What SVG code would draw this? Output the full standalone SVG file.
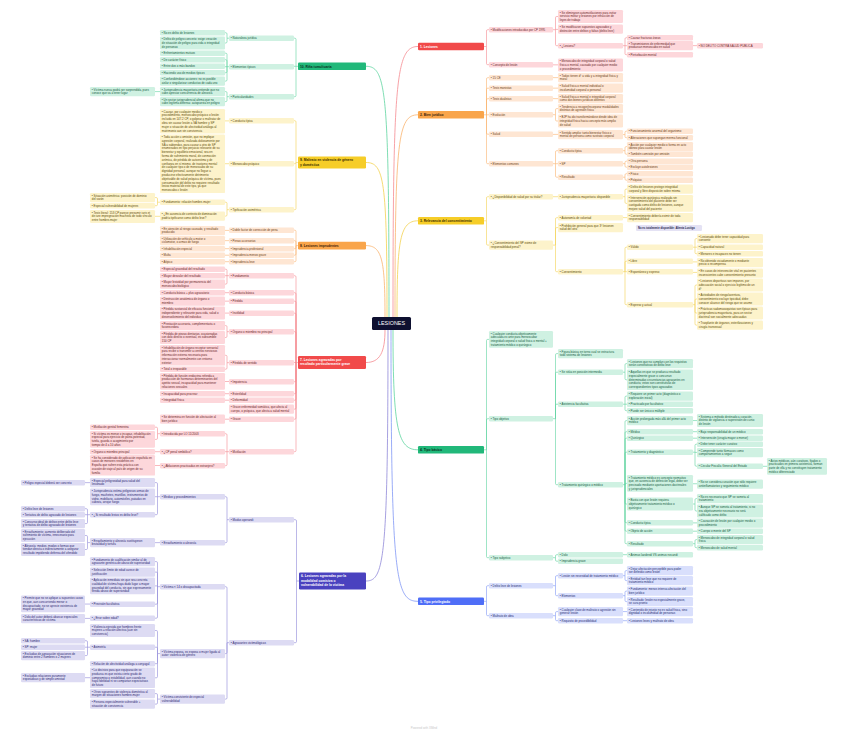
<svg xmlns="http://www.w3.org/2000/svg" width="848" height="734" viewBox="0 0 848 734">
<style>
text{font-family:"Liberation Sans",Arial,sans-serif;font-size:2.9px}
rect{rx:1.2px}
.R rect{fill:#fdd7db}.R text{fill:#6a1f27}
.O rect{fill:#fee6d3}.O text{fill:#6b3c14}
.Y rect{fill:#fdf3cb}.Y text{fill:#5c4a06}
.G rect{fill:#cff1e2}.G text{fill:#145c3f}
.B rect{fill:#d9dffc}.B text{fill:#1e2a72}
.P rect{fill:#dddbf3}.P text{fill:#2b2672}
.m text{font-size:3.3px;font-weight:bold}
.R .m rect{fill:#f14a4a}.R .m text{fill:#fff}
.O .m rect{fill:#f9a54b}.O .m text{fill:#3a2208}
.Y .m rect{fill:#f6cd28}.Y .m text{fill:#3a2e00}
.G .m rect{fill:#21b87a}.G .m text{fill:#0b2e1f}
.B .m rect{fill:#4f6ef7}.B .m text{fill:#fff}
.P .m rect{fill:#4a42bf}.P .m text{fill:#fff}
#connectors path{fill:none;stroke-width:.6}
#connectors .k path{stroke-width:.8}
.cR{stroke:#f58a90}.cO{stroke:#fab46e}.cY{stroke:#f3d250}.cG{stroke:#5ed4a0}.cB{stroke:#8097f5}.cP{stroke:#8f88d8}
</style>
<rect x="0" y="0" width="848" height="734" fill="#fff" style="rx:0"/>
<g id="connectors">
<g class="k">
<path class="cR" d="M393 317C393 80 396 46.5 418 46.5"/>
<path class="cO" d="M395 317C395 140 398 114.8 418 114.8"/>
<path class="cY" d="M397 317C397 240 400 220.8 418 220.8"/>
<path class="cG" d="M389 317C389 90 386 66.3 366 66.3"/>
<path class="cY" d="M387 317C387 180 384 162.5 366 162.5"/>
<path class="cO" d="M385 317C385 260 382 245.6 366 245.6"/>
<path class="cR" d="M385 330C385 352 380 362.5 366 362.5"/>
<path class="cP" d="M388 330C388 560 384 581 366 581"/>
<path class="cG" d="M393 330C393 430 398 449.8 418 449.8"/>
<path class="cB" d="M391 330C391 580 396 601.3 418 601.3"/>
</g>
<path class="cG" d="M298 66.3H296M296 66.3V39.4Q296 38.2 294.8 38.2H294M296 66.3H294M296 66.3V95.5Q296 96.7 294.8 96.7H294M229 38.2H227M227 38.2V33.9Q227 32.7 225.8 32.7H225M227 38.2V41.8Q227 43 225.8 43H225M229 66.7H227M227 66.7V54.4Q227 53.2 225.8 53.2H225M227 66.7V60.9Q227 59.7 225.8 59.7H225M227 66.7H225M227 66.7V71.5Q227 72.7 225.8 72.7H225M227 66.7V79.9Q227 81.1 225.8 81.1H225M229 96.7H227M227 96.7V92.8Q227 91.6 225.8 91.6H225M227 96.7V100.4Q227 101.6 225.8 101.6H225M160 91.6H155"/>
<path class="cY" d="M298 162.5H296M296 162.5V121.9Q296 120.7 294.8 120.7H294M296 162.5Q296 163.7 294.8 163.7H294M296 162.5V208.5Q296 209.7 294.8 209.7H294M229 120.9H225M229 163.7H225M229 209.7H227M227 209.7V203.4Q227 202.2 225.8 202.2H225M227 209.7V214.9Q227 216.1 225.8 216.1H225M160 202.2H157.5M157.5 202.2V198.8Q157.5 197.6 156.3 197.6H155M157.5 202.2V204.5Q157.5 205.7 156.3 205.7H155M160 216.3H155"/>
<path class="cO" d="M298 245.6H296M296 245.6V231.4Q296 230.2 294.8 230.2H294M296 245.6V241.9Q296 240.7 294.8 240.7H294M296 245.6V247.5Q296 248.7 294.8 248.7H294M296 245.6V254Q296 255.2 294.8 255.2H294M296 245.6V260.5Q296 261.7 294.8 261.7H294M229 230.4H225M229 240.65H225M229 248.7H225M229 255.2H225M229 261.7H225"/>
<path class="cR" d="M298 362.5H296M296 362.5V276.9Q296 275.7 294.8 275.7H294M296 362.5V293.9Q296 292.7 294.8 292.7H294M296 362.5V302.4Q296 301.2 294.8 301.2H294M296 362.5V314.4Q296 313.2 294.8 313.2H294M296 362.5V332.9Q296 331.7 294.8 331.7H294M296 362.5H294M296 362.5V380.5Q296 381.7 294.8 381.7H294M296 362.5V392.5Q296 393.7 294.8 393.7H294M296 362.5V399Q296 400.2 294.8 400.2H294M296 362.5V407.9Q296 409.1 294.8 409.1H294M296 362.5V418Q296 419.2 294.8 419.2H294M296 362.5V450.5Q296 451.7 294.8 451.7H294M229 275.7H227M227 275.7V270.4Q227 269.2 225.8 269.2H225M227 275.7H225M227 275.7V282.9Q227 284.1 225.8 284.1H225M229 292.7H225M229 301.15H225M229 313.1H225M229 331.7H227M227 331.7V326.8Q227 325.6 225.8 325.6H225M227 331.7V336.3Q227 337.5 225.8 337.5H225M229 362.7H227M227 362.7V356.5Q227 355.3 225.8 355.3H225M227 362.7V368Q227 369.2 225.8 369.2H225M229 381.5H225M229 393.7H225M229 400.2H225M229 419.2H225M229 451.7H227M227 451.7V434.9Q227 433.7 225.8 433.7H225M227 451.7H225M227 451.7V464.5Q227 465.7 225.8 465.7H225M160 433.7H157.5M157.5 433.7V428.4Q157.5 427.2 156.3 427.2H155M157.5 433.7V438.2Q157.5 439.4 156.3 439.4H155M160 451.7H155M160 465.5H155"/>
<path class="cP" d="M299 581H296.5M296.5 581V520.9Q296.5 519.7 295.3 519.7H294M296.5 581V641.5Q296.5 642.7 295.3 642.7H294M229 519.7H227M227 519.7V497.9Q227 496.7 225.8 496.7H225M227 519.7V541.5Q227 542.7 225.8 542.7H225M160 496.7H157.5M157.5 496.7V483.8Q157.5 482.6 156.3 482.6H155M157.5 496.7H155M157.5 496.7V513.5Q157.5 514.7 156.3 514.7H155M160 542.65H155M90 482.65H85M90 514.7H87.5M87.5 514.7V509.9Q87.5 508.7 86.3 508.7H85M87.5 514.7H85M87.5 514.7V522.4Q87.5 523.6 86.3 523.6H85M90 542.6H87.5M87.5 542.6V536.7Q87.5 535.5 86.3 535.5H85M87.5 542.6V548.3Q87.5 549.5 86.3 549.5H85M229 642.7H227M227 642.7V587.9Q227 586.7 225.8 586.7H225M227 642.7V652.4Q227 653.6 225.8 653.6H225M227 642.7V697.9Q227 699.1 225.8 699.1H225M160 586.7H157.5M157.5 586.7V562.8Q157.5 561.6 156.3 561.6H155M157.5 586.7V573.3Q157.5 572.1 156.3 572.1H155M157.5 586.7Q157.5 585.9 156.7 585.9H155M157.5 586.7V603Q157.5 604.2 156.3 604.2H155M157.5 586.7V617Q157.5 618.2 156.3 618.2H155M160 653.6H157.5M157.5 653.6V631.7Q157.5 630.5 156.3 630.5H155M157.5 653.6V648.4Q157.5 647.2 156.3 647.2H155M157.5 653.6V662.5Q157.5 663.7 156.3 663.7H155M157.5 653.6V676.6Q157.5 677.8 156.3 677.8H155M160 699.1H157.5M157.5 699.1V694.8Q157.5 693.6 156.3 693.6H155M157.5 699.1V702.9Q157.5 704.1 156.3 704.1H155M90 604.05H85M90 618.4H85M90 647.2H87.5M87.5 647.2V641.9Q87.5 640.7 86.3 640.7H85M87.5 647.2H85M87.5 647.2V654.4Q87.5 655.6 86.3 655.6H85M90 677.7H85"/>
<path class="cR" d="M484 46.5H486.5M486.5 46.5V30.9Q486.5 29.7 487.7 29.7H489M486.5 46.5V63.5Q486.5 64.7 487.7 64.7H489M553 29.7H555.5M555.5 29.7V17.7Q555.5 16.5 556.7 16.5H558M555.5 29.4H558M555.5 29.7V44.5Q555.5 45.7 556.7 45.7H558M553 64.85H558M623 45.7H625M625 45.7V38.9Q625 37.7 626.2 37.7H627M625 45.7H627M625 45.7V53.5Q625 54.7 626.2 54.7H627M693 45.65H697"/>
<path class="cO" d="M484 114.8H486.5M486.5 114.8V78.9Q486.5 77.7 487.7 77.7H489M486.5 114.8V89.4Q486.5 88.2 487.7 88.2H489M486.5 114.8V99.9Q486.5 98.7 487.7 98.7H489M486.5 114.8H489M486.5 114.8V133Q486.5 134.2 487.7 134.2H489M486.5 114.8V162.5Q486.5 163.7 487.7 163.7H489M553 77.65H558M553 88.15H558M553 98.65H558M553 114.7H555.5M555.5 114.7V109.8Q555.5 108.6 556.7 108.6H558M555.5 114.7V119.8Q555.5 121 556.7 121H558M553 134.4H558M553 163.7H555.5M555.5 163.7V151.9Q555.5 150.7 556.7 150.7H558M555.5 163.7H558M555.5 163.7V176Q555.5 177.2 556.7 177.2H558M623 134.6H625M625 134.6V132.4Q625 131.2 626.2 131.2H627M625 134.6V136.5Q625 137.7 626.2 137.7H627M623 150.7H625M625 150.7V147.8Q625 146.6 626.2 146.6H627M625 150.7V153Q625 154.2 626.2 154.2H627M623 163.7H625M625 163.7V162.4Q625 161.2 626.2 161.2H627M625 163.7V166Q625 167.2 626.2 167.2H627M623 177.2H625M625 177.2V174.9Q625 173.7 626.2 173.7H627M625 177.2V179Q625 180.2 626.2 180.2H627"/>
<path class="cY" d="M484 220.8H486.5M486.5 220.8V197.9Q486.5 196.7 487.7 196.7H489M486.5 220.8V243.9Q486.5 245.1 487.7 245.1H489M553 196.7H558M553 245.1H555.5M555.5 245.1V218.9Q555.5 217.7 556.7 217.7H558M555.5 245.1V228.8Q555.5 227.6 556.7 227.6H558M555.5 245.1V270.5Q555.5 271.7 556.7 271.7H558M623 196.7H625M625 196.7V190.3Q625 189.1 626.2 189.1H627M625 196.7V202.2Q625 203.4 626.2 203.4H627M623 217.65H627M623 271.7H625M625 271.7V248.4Q625 247.2 626.2 247.2H627M625 271.7V262.4Q625 261.2 626.2 261.2H627M625 271.7H627M625 271.7V303.5Q625 304.7 626.2 304.7H627M693 247.2H695M695 247.2V239.8Q695 238.6 696.2 238.6H697M695 247.2H697M695 247.2V252.5Q695 253.7 696.2 253.7H697M693 261.9H697M693 272.4H697M693 304.7H695M695 304.7V286.2Q695 285 696.2 285H697M695 304.7V300.2Q695 299 696.2 299H697M695 304.7V311.8Q695 313 696.2 313H697M695 304.7V323.9Q695 325.1 696.2 325.1H697"/>
<path class="cG" d="M484 449.8H486.5M486.5 449.8V340.6Q486.5 339.4 487.7 339.4H489M486.5 449.8V419.9Q486.5 418.7 487.7 418.7H489M486.5 449.8V556.5Q486.5 557.7 487.7 557.7H489M553 418.7H555.5M555.5 418.7V354.8Q555.5 353.6 556.7 353.6H558M555.5 418.7V373.4Q555.5 372.2 556.7 372.2H558M555.5 418.7V405.4Q555.5 404.2 556.7 404.2H558M555.5 418.7V483.5Q555.5 484.7 556.7 484.7H558M553 557.7H555.5M555.5 557.7V555.9Q555.5 554.7 556.7 554.7H558M555.5 557.7V560Q555.5 561.2 556.7 561.2H558M623 372.2H625M625 372.2V364.8Q625 363.6 626.2 363.6H627M625 372.2V378.6Q625 379.8 626.2 379.8H627M623 404.2H625M625 404.2V397.3Q625 396.1 626.2 396.1H627M625 404.2H627M625 404.2V409.5Q625 410.7 626.2 410.7H627M623 484.7H625M625 484.7V421.8Q625 420.6 626.2 420.6H627M625 484.7V432.9Q625 431.7 626.2 431.7H627M625 484.7V439.4Q625 438.2 626.2 438.2H627M625 484.7V453.4Q625 452.2 626.2 452.2H627M625 484.7Q625 483.4 626.2 483.4H627M625 484.7V502.8Q625 504 626.2 504H627M625 484.7V521.5Q625 522.7 626.2 522.7H627M625 484.7V530Q625 531.2 626.2 531.2H627M625 484.7V542.5Q625 543.7 626.2 543.7H627M623 554.7H627M693 420.55H697M693 431.7H697M693 438.2H697M693 452.2H695M695 452.2V445.4Q695 444.2 696.2 444.2H697M695 452.4H697M695 452.2V465Q695 466.2 696.2 466.2H697M693 483.75H697M693 504H695M695 504V499.8Q695 498.6 696.2 498.6H697M695 504V509.8Q695 511 696.2 511H697M693 522.9H697M693 531.2H697M693 543.7H695M695 543.7V540.8Q695 539.6 696.2 539.6H697M695 543.7V546.5Q695 547.7 696.2 547.7H697M763 466.3H767"/>
<path class="cB" d="M484 601.3H486.5M486.5 601.3V586.9Q486.5 585.7 487.7 585.7H489M486.5 601.3V614.5Q486.5 615.7 487.7 615.7H489M553 585.7H555.5M555.5 585.7V576.9Q555.5 575.7 556.7 575.7H558M555.5 585.7V594.5Q555.5 595.7 556.7 595.7H558M553 615.7H555.5M555.5 615.7V612.8Q555.5 611.6 556.7 611.6H558M555.5 615.7V619.5Q555.5 620.7 556.7 620.7H558M623 575.7H625M625 575.7V571.8Q625 570.6 626.2 570.6H627M625 575.7V579.4Q625 580.6 626.2 580.6H627M623 595.7H625M625 595.7V592.3Q625 591.1 626.2 591.1H627M625 595.7V600.4Q625 601.6 626.2 601.6H627M623 611.6H627M623 620.7H627"/>
</g>
<g id="center"><rect x="372" y="317" width="39" height="13" fill="#0e1030" style="rx:1.5px"/><text x="391.5" y="325.3" text-anchor="middle" fill="#fff" style="font-size:5.4px">LESIONES</text></g>
<g class="R" id="branch1">
<g id="n1" class="m"><rect x="418" y="42.7" width="66" height="7.6"/><text x="420" y="47.7">1. Lesiones</text></g>
<g id="r1a"><rect x="489" y="27" width="64" height="5.4"/><text x="490.8" y="30.55">• Modificaciones introducidas por CP 1995</text></g>
<g id="r1b"><rect x="489" y="62" width="64" height="5.4"/><text x="490.8" y="65.55">• Concepto de lesión</text></g>
<g id="r1a1"><rect x="558" y="10" width="65" height="13"/><text x="559.8" y="13.55">• Se eliminaron automutilaciones para evitar<tspan x="559.8" dy="3.8">servicio militar y lesiones por infracción de</tspan><tspan x="559.8" dy="3.8">leyes de trabajo</tspan></text></g>
<g id="r1a2"><rect x="558" y="24.5" width="65" height="9.2"/><text x="559.8" y="28.05">• Se modificaron supuestos agravados y<tspan x="559.8" dy="3.8">distinción entre delitos y faltas (delito leve)</tspan></text></g>
<g id="r1a3"><rect x="558" y="43" width="65" height="5.4"/><text x="559.8" y="46.55">• ¿Lesiona?</text></g>
<g id="r1b1"><rect x="558" y="58.5" width="65" height="13"/><text x="559.8" y="62.05">• Menoscabo de integridad corporal o salud<tspan x="559.8" dy="3.8">física o mental, causado por cualquier medio</tspan><tspan x="559.8" dy="3.8">o procedimiento</tspan></text></g>
<g id="r1a3a"><rect x="627" y="35" width="66" height="5.4"/><text x="628.8" y="38.55">• Causar fracturas óseas</text></g>
<g id="r1a3b"><rect x="627" y="41" width="66" height="9.2"/><text x="628.8" y="44.55">• Transmisiones de enfermedad que<tspan x="628.8" dy="3.8">produzcan menoscabo en salud</tspan></text></g>
<g id="r1a3c"><rect x="627" y="52" width="66" height="5.4"/><text x="628.8" y="55.55">• Perturbación mental</text></g>
<g id="r1a3b1"><rect x="697" y="43" width="66" height="5.4"/><text x="698.8" y="46.55">• NO DELITO CONTRA SALUD PÚBLICA</text></g>
</g>
<g class="O" id="branch2">
<g id="n2" class="m"><rect x="418" y="111" width="66" height="7.6"/><text x="420" y="116">2. Bien jurídico</text></g>
<g id="o2a"><rect x="489" y="75" width="64" height="5.4"/><text x="490.8" y="78.55">• 15 CE</text></g>
<g id="o2b"><rect x="489" y="85.5" width="64" height="5.4"/><text x="490.8" y="89.05">• Tesis monistas</text></g>
<g id="o2c"><rect x="489" y="96" width="64" height="5.4"/><text x="490.8" y="99.55">• Tesis dualistas</text></g>
<g id="o2d"><rect x="489" y="112" width="64" height="5.4"/><text x="490.8" y="115.55">• Evolución</text></g>
<g id="o2e"><rect x="489" y="131.5" width="64" height="5.4"/><text x="490.8" y="135.05">• Salud</text></g>
<g id="o2f"><rect x="489" y="161" width="64" height="5.4"/><text x="490.8" y="164.55">• Elementos comunes</text></g>
<g id="o2a1"><rect x="558" y="73" width="65" height="9.2"/><text x="559.8" y="76.55">• Todos tienen dº a vida y a integridad física y<tspan x="559.8" dy="3.8">moral</tspan></text></g>
<g id="o2b1"><rect x="558" y="83.5" width="65" height="9.2"/><text x="559.8" y="87.05">• Salud física o mental individual o<tspan x="559.8" dy="3.8">incolumidad corporal o personal</tspan></text></g>
<g id="o2c1"><rect x="558" y="94" width="65" height="9.2"/><text x="559.8" y="97.55">• Salud física o mental e integridad corporal<tspan x="559.8" dy="3.8">como dos bienes jurídicos distintos</tspan></text></g>
<g id="o2d1"><rect x="558" y="104" width="65" height="9.2"/><text x="559.8" y="107.55">• Tendencia a recoger/incorporar modalidades<tspan x="559.8" dy="3.8">distintas de agresión física</tspan></text></g>
<g id="o2d2"><rect x="558" y="114.5" width="65" height="13"/><text x="559.8" y="118.05">• BJP ha ido transformándose desde idea de<tspan x="559.8" dy="3.8">integridad física hacia concepto más amplio</tspan><tspan x="559.8" dy="3.8">de salud</tspan></text></g>
<g id="o2e1"><rect x="558" y="130" width="65" height="9.2"/><text x="559.8" y="133.55">• Sentido amplio: tanto bienestar físico o<tspan x="559.8" dy="3.8">mental de persona como sustrato corporal</tspan></text></g>
<g id="o2f1"><rect x="558" y="148" width="65" height="5.4"/><text x="559.8" y="151.55">• Conducta típica</text></g>
<g id="o2f2"><rect x="558" y="161" width="65" height="5.4"/><text x="559.8" y="164.55">• SP</text></g>
<g id="o2f3"><rect x="558" y="174.5" width="65" height="5.4"/><text x="559.8" y="178.05">• Resultado</text></g>
<g id="o2e1a"><rect x="627" y="128.5" width="66" height="5.4"/><text x="628.8" y="132.05">• Funcionamiento anormal del organismo</text></g>
<g id="o2e1b"><rect x="627" y="135" width="66" height="5.4"/><text x="628.8" y="138.55">• Alteraciones que supongan merma funcional</text></g>
<g id="o2f1a"><rect x="627" y="142" width="66" height="9.2"/><text x="628.8" y="145.55">• Acción por cualquier medio o forma en acto<tspan x="628.8" dy="3.8">idóneo para causar lesión</tspan></text></g>
<g id="o2f1b"><rect x="627" y="151.5" width="66" height="5.4"/><text x="628.8" y="155.05">• También comisión por omisión</text></g>
<g id="o2f2a"><rect x="627" y="158.5" width="66" height="5.4"/><text x="628.8" y="162.05">• Otra persona</text></g>
<g id="o2f2b"><rect x="627" y="164.5" width="66" height="5.4"/><text x="628.8" y="168.05">• Excluye autolesiones</text></g>
<g id="o2f3a"><rect x="627" y="171" width="66" height="5.4"/><text x="628.8" y="174.55">• Físico</text></g>
<g id="o2f3b"><rect x="627" y="177.5" width="66" height="5.4"/><text x="628.8" y="181.05">• Psíquico</text></g>
</g>
<g class="Y" id="branch3">
<g id="n3" class="m"><rect x="418" y="217" width="66" height="7.6"/><text x="420" y="222">3. Relevancia del consentimiento</text></g>
<g id="y3a"><rect x="489" y="194" width="64" height="5.4"/><text x="490.8" y="197.55">• ¿Disponibilidad de salud por su titular?</text></g>
<g id="y3b"><rect x="489" y="240.5" width="64" height="9.2"/><text x="490.8" y="244.05">• ¿Consentimiento del SP exime de<tspan x="490.8" dy="3.8">responsabilidad penal?</tspan></text></g>
<g id="y3a1"><rect x="558" y="194" width="65" height="5.4"/><text x="559.8" y="197.55">• Jurisprudencia mayoritaria: disponible</text></g>
<g id="y3b1"><rect x="558" y="215" width="65" height="5.4"/><text x="559.8" y="218.55">• Autonomía de voluntad</text></g>
<g id="y3b2"><rect x="558" y="223" width="65" height="9.2"/><text x="559.8" y="226.55">• Prohibición general para que 3º lesionen<tspan x="559.8" dy="3.8">salud del otro</tspan></text></g>
<g id="y3b3"><rect x="558" y="269" width="65" height="5.4"/><text x="559.8" y="272.55">• Consentimiento</text></g>
<g id="y3a1a"><rect x="627" y="184.5" width="66" height="9.2"/><text x="628.8" y="188.05">• Delito de lesiones protege integridad<tspan x="628.8" dy="3.8">corporal y libre disposición sobre misma</tspan></text></g>
<g id="y3a1b"><rect x="627" y="195" width="66" height="16.8"/><text x="628.8" y="198.55">• Intervención quirúrgica realizada sin<tspan x="628.8" dy="3.8">consentimiento del paciente debe ser</tspan><tspan x="628.8" dy="3.8">castigada como delito de lesiones, aunque</tspan><tspan x="628.8" dy="3.8">mejore salud del paciente</tspan></text></g>
<g id="y3b1a"><rect x="627" y="213" width="66" height="9.2"/><text x="628.8" y="216.55">• Consentimiento debería eximir de toda<tspan x="628.8" dy="3.8">responsabilidad</tspan></text></g>
<g id="note"><rect x="636" y="225" width="66" height="6" style="fill:#e4e2f4"/><text x="638" y="229" style="fill:#1d1d4d;font-weight:bold;font-size:2.7px">No es totalmente disponible: Alienta Lustiga</text></g>
<g id="y3b3a"><rect x="627" y="244.5" width="66" height="5.4"/><text x="628.8" y="248.05">• Válido</text></g>
<g id="y3b3b"><rect x="627" y="258.5" width="66" height="5.4"/><text x="628.8" y="262.05">• Libre</text></g>
<g id="y3b3c"><rect x="627" y="269" width="66" height="5.4"/><text x="628.8" y="272.55">• Espontáneo y expreso</text></g>
<g id="y3b3d"><rect x="627" y="302" width="66" height="5.4"/><text x="628.8" y="305.55">• Expreso y actual</text></g>
<g id="y3b3a1"><rect x="697" y="234" width="66" height="9.2"/><text x="698.8" y="237.55">• Lesionado debe tener capacidad para<tspan x="698.8" dy="3.8">consentir</tspan></text></g>
<g id="y3b3a2"><rect x="697" y="244.5" width="66" height="5.4"/><text x="698.8" y="248.05">• Capacidad natural</text></g>
<g id="y3b3a3"><rect x="697" y="251" width="66" height="5.4"/><text x="698.8" y="254.55">• Menores e incapaces no tienen</text></g>
<g id="y3b3b1"><rect x="697" y="258" width="66" height="9.2"/><text x="698.8" y="261.55">• No obtenido viciadamente o mediante<tspan x="698.8" dy="3.8">precio o recompensa</tspan></text></g>
<g id="y3b3c1"><rect x="697" y="268.5" width="66" height="9.2"/><text x="698.8" y="272.05">• En casos de intervención vital en pacientes<tspan x="698.8" dy="3.8">inconscientes cabe consentimiento presunto</tspan></text></g>
<g id="y3b3d1"><rect x="697" y="278.5" width="66" height="13"/><text x="698.8" y="282.05">• Lesiones deportivas son impunes, por<tspan x="698.8" dy="3.8">adecuación social o ejercicio legítimo de un</tspan><tspan x="698.8" dy="3.8">dº</tspan></text></g>
<g id="y3b3d2"><rect x="697" y="292.5" width="66" height="13"/><text x="698.8" y="296.05">• Actividades de riesgo/aventura,<tspan x="698.8" dy="3.8">consentimiento excluye tipicidad, debe</tspan><tspan x="698.8" dy="3.8">conocer alcance del riesgo que se asume</tspan></text></g>
<g id="y3b3d3"><rect x="697" y="306.5" width="66" height="13"/><text x="698.8" y="310.05">• Prácticas sadomasoquistas son típicas para<tspan x="698.8" dy="3.8">jurisprudencia mayoritaria, para un sector</tspan><tspan x="698.8" dy="3.8">doctrinal son socialmente adecuadas</tspan></text></g>
<g id="y3b3d4"><rect x="697" y="320.5" width="66" height="9.2"/><text x="698.8" y="324.05">• Trasplante de órganos, esterilizaciones y<tspan x="698.8" dy="3.8">cirugía transexual</tspan></text></g>
</g>
<g class="G" id="branch4">
<g id="n4" class="m"><rect x="418" y="446" width="66" height="7.6"/><text x="420" y="451">4. Tipo básico</text></g>
<g id="g4a"><rect x="489" y="331" width="64" height="16.8"/><text x="490.8" y="334.55">• Cualquier conducta objetivamente<tspan x="490.8" dy="3.8">adecuada ex ante para menoscabar</tspan><tspan x="490.8" dy="3.8">integridad corporal o salud física o mental +</tspan><tspan x="490.8" dy="3.8">tratamiento médico o quirúrgico</tspan></text></g>
<g id="g4b"><rect x="489" y="416" width="64" height="5.4"/><text x="490.8" y="419.55">• Tipo objetivo</text></g>
<g id="g4c"><rect x="489" y="555" width="64" height="5.4"/><text x="490.8" y="558.55">• Tipo subjetivo</text></g>
<g id="g4b1"><rect x="558" y="349" width="65" height="9.2"/><text x="559.8" y="352.55">• Figura básica en torno cual se estructura<tspan x="559.8" dy="3.8">todo sistema de lesiones</tspan></text></g>
<g id="g4b2"><rect x="558" y="369.5" width="65" height="5.4"/><text x="559.8" y="373.05">• Se sitúa en posición intermedia</text></g>
<g id="g4b3"><rect x="558" y="401.5" width="65" height="5.4"/><text x="559.8" y="405.05">• Asistencia facultativa</text></g>
<g id="g4b4"><rect x="558" y="482" width="65" height="5.4"/><text x="559.8" y="485.55">• Tratamiento quirúrgico o médico</text></g>
<g id="g4c1"><rect x="558" y="552" width="65" height="5.4"/><text x="559.8" y="555.55">• Dolo</text></g>
<g id="g4c2"><rect x="558" y="558.5" width="65" height="5.4"/><text x="559.8" y="562.05">• Imprudencia grave</text></g>
<g id="g4b2a"><rect x="627" y="359" width="66" height="9.2"/><text x="628.8" y="362.55">• Lesiones que no cumplan con los requisitos<tspan x="628.8" dy="3.8">serán constitutivas de delito leve</tspan></text></g>
<g id="g4b2b"><rect x="627" y="369.5" width="66" height="20.6"/><text x="628.8" y="373.05">• Aquellas en que se produzca resultado<tspan x="628.8" dy="3.8">especialmente grave o concurran</tspan><tspan x="628.8" dy="3.8">determinadas circunstancias agravantes en</tspan><tspan x="628.8" dy="3.8">conducta; estos son constitutivas de</tspan><tspan x="628.8" dy="3.8">correspondientes tipos agravados</tspan></text></g>
<g id="g4b3a"><rect x="627" y="391.5" width="66" height="9.2"/><text x="628.8" y="395.05">• Requiere un primer acto (diagnóstico o<tspan x="628.8" dy="3.8">exploración inicial)</tspan></text></g>
<g id="g4b3b"><rect x="627" y="401.5" width="66" height="5.4"/><text x="628.8" y="405.05">• Practicado por facultativo</text></g>
<g id="g4b3c"><rect x="627" y="408" width="66" height="5.4"/><text x="628.8" y="411.55">• Puede ser único o múltiple</text></g>
<g id="g4b4a"><rect x="627" y="416" width="66" height="9.2"/><text x="628.8" y="419.55">• Acción prolongada más allá del primer acto<tspan x="628.8" dy="3.8">médico</tspan></text></g>
<g id="g4b4b"><rect x="627" y="429" width="66" height="5.4"/><text x="628.8" y="432.55">• Médico</text></g>
<g id="g4b4c"><rect x="627" y="435.5" width="66" height="5.4"/><text x="628.8" y="439.05">• Quirúrgico</text></g>
<g id="g4b4d"><rect x="627" y="449.5" width="66" height="5.4"/><text x="628.8" y="453.05">• Tratamiento y diagnóstico</text></g>
<g id="g4b4e"><rect x="627" y="475" width="66" height="16.8"/><text x="628.8" y="478.55">• Tratamiento médico es concepto normativo<tspan x="628.8" dy="3.8">que, en ausencia de definición legal, debe ser</tspan><tspan x="628.8" dy="3.8">precisado mediante aportaciones doctrinales</tspan><tspan x="628.8" dy="3.8">y jurisprudenciales</tspan></text></g>
<g id="g4b4f"><rect x="627" y="497.5" width="66" height="13"/><text x="628.8" y="501.05">• Basta con que lesión requiera<tspan x="628.8" dy="3.8">objetivamente tratamiento médico o</tspan><tspan x="628.8" dy="3.8">quirúrgico</tspan></text></g>
<g id="g4b4g"><rect x="627" y="520" width="66" height="5.4"/><text x="628.8" y="523.55">• Conducta típica</text></g>
<g id="g4b4h"><rect x="627" y="528.5" width="66" height="5.4"/><text x="628.8" y="532.05">• Objeto de acción</text></g>
<g id="g4b4i"><rect x="627" y="541" width="66" height="5.4"/><text x="628.8" y="544.55">• Resultado</text></g>
<g id="g4c1a"><rect x="627" y="552" width="66" height="5.4"/><text x="628.8" y="555.55">• Ánimus laedendi VS animus necandi</text></g>
<g id="g4b4a1"><rect x="697" y="414" width="66" height="13"/><text x="698.8" y="417.55">• Sistema o método destinado a curación,<tspan x="698.8" dy="3.8">distinto de vigilancia o supervisión de curso</tspan><tspan x="698.8" dy="3.8">de lesión</tspan></text></g>
<g id="g4b4b1"><rect x="697" y="429" width="66" height="5.4"/><text x="698.8" y="432.55">• Bajo responsabilidad de un médico</text></g>
<g id="g4b4c1"><rect x="697" y="435.5" width="66" height="5.4"/><text x="698.8" y="439.05">• Intervención (cirugía mayor o menor)</text></g>
<g id="g4b4d1"><rect x="697" y="441.5" width="66" height="5.4"/><text x="698.8" y="445.05">• Debe tener carácter curativo</text></g>
<g id="g4b4d2"><rect x="697" y="448" width="66" height="9.2"/><text x="698.8" y="451.55">• Comprende tanto fármacos como<tspan x="698.8" dy="3.8">comportamientos a seguir</tspan></text></g>
<g id="g4b4d3"><rect x="697" y="463.5" width="66" height="5.4"/><text x="698.8" y="467.05">• Circular Fiscalía General del Estado</text></g>
<g id="g4b4d3a"><rect x="767" y="458" width="60" height="16.8"/><text x="768.8" y="461.55">• Actos médicos, aún curativos, fijados o<tspan x="768.8" dy="3.8">practicados en primera asistencia, forman</tspan><tspan x="768.8" dy="3.8">parte de ella y no constituyen tratamiento</tspan><tspan x="768.8" dy="3.8">médico diferenciado</tspan></text></g>
<g id="g4b4e1"><rect x="697" y="479.5" width="66" height="9.2"/><text x="698.8" y="483.05">• No se considera curación que sólo requiere<tspan x="698.8" dy="3.8">antiinflamatorios y seguimiento médico</tspan></text></g>
<g id="g4b4f1"><rect x="697" y="494" width="66" height="9.2"/><text x="698.8" y="497.55">• No es necesario que SP se someta al<tspan x="698.8" dy="3.8">tratamiento</tspan></text></g>
<g id="g4b4f2"><rect x="697" y="504.5" width="66" height="13"/><text x="698.8" y="508.05">• Aunque SP se someta al tratamiento, si no<tspan x="698.8" dy="3.8">era objetivamente necesario no será</tspan><tspan x="698.8" dy="3.8">calificado como delito</tspan></text></g>
<g id="g4b4g1"><rect x="697" y="518.5" width="66" height="9.2"/><text x="698.8" y="522.05">• Causación de lesión por cualquier medio o<tspan x="698.8" dy="3.8">procedimiento</tspan></text></g>
<g id="g4b4h1"><rect x="697" y="528.5" width="66" height="5.4"/><text x="698.8" y="532.05">• Cuerpo o mente del SP</text></g>
<g id="g4b4i1"><rect x="697" y="535" width="66" height="9.2"/><text x="698.8" y="538.55">• Menoscabo de integridad corporal o salud<tspan x="698.8" dy="3.8">física</tspan></text></g>
<g id="g4b4i2"><rect x="697" y="545" width="66" height="5.4"/><text x="698.8" y="548.55">• Menoscabo de salud mental</text></g>
</g>
<g class="B" id="branch5">
<g id="n5" class="m"><rect x="418" y="597.5" width="66" height="7.6"/><text x="420" y="602.5">5. Tipo privilegiado</text></g>
<g id="b5a"><rect x="489" y="583" width="64" height="5.4"/><text x="490.8" y="586.55">• Delito leve de lesiones</text></g>
<g id="b5b"><rect x="489" y="613" width="64" height="5.4"/><text x="490.8" y="616.55">• Maltrato de obra</text></g>
<g id="b5a1"><rect x="558" y="573" width="65" height="5.4"/><text x="559.8" y="576.55">• Lesión sin necesidad de tratamiento médico</text></g>
<g id="b5a2"><rect x="558" y="593" width="65" height="5.4"/><text x="559.8" y="596.55">• Elementos</text></g>
<g id="b5b1"><rect x="558" y="607" width="65" height="9.2"/><text x="559.8" y="610.55">• Cualquier clase de maltrato o agresión sin<tspan x="559.8" dy="3.8">generar lesión</tspan></text></g>
<g id="b5b2"><rect x="558" y="618" width="65" height="5.4"/><text x="559.8" y="621.55">• Requisito de procedibilidad</text></g>
<g id="b5a1a"><rect x="627" y="566" width="66" height="9.2"/><text x="628.8" y="569.55">• Dejar afectación perceptible para poder<tspan x="628.8" dy="3.8">ser definido como lesión</tspan></text></g>
<g id="b5a1b"><rect x="627" y="576" width="66" height="9.2"/><text x="628.8" y="579.55">• Entidad tan leve que no requiere de<tspan x="628.8" dy="3.8">tratamiento médico</tspan></text></g>
<g id="b5a2a"><rect x="627" y="586.5" width="66" height="9.2"/><text x="628.8" y="590.05">• Fundamento: menos intensa afectación del<tspan x="628.8" dy="3.8">bien jurídico</tspan></text></g>
<g id="b5a2b"><rect x="627" y="597" width="66" height="9.2"/><text x="628.8" y="600.55">• Resultado: lesión no especialmente grave,<tspan x="628.8" dy="3.8">se cura pronto</tspan></text></g>
<g id="b5b1a"><rect x="627" y="607" width="66" height="9.2"/><text x="628.8" y="610.55">• Contenido de injusto no es salud física, sino<tspan x="628.8" dy="3.8">dignidad o incolumidad de personas</tspan></text></g>
<g id="b5b2a"><rect x="627" y="618" width="66" height="5.4"/><text x="628.8" y="621.55">• Lesiones leves y maltrato de obra</text></g>
</g>
<g class="P" id="branch6">
<g id="n6" class="m"><rect x="299" y="572.5" width="67" height="17"/><text x="301" y="577.4">6. Lesiones agravadas por la<tspan x="301" dy="4.2">modalidad comisiva o</tspan><tspan x="301" dy="4.2">vulnerabilidad de la víctima</tspan></text></g>
<g id="p6a"><rect x="229" y="517" width="65" height="5.4"/><text x="230.8" y="520.55">• Modus operandi</text></g>
<g id="p6b"><rect x="229" y="640" width="65" height="5.4"/><text x="230.8" y="643.55">• Agravantes victimológicas</text></g>
<g id="p6a1"><rect x="160" y="494" width="65" height="5.4"/><text x="161.8" y="497.55">• Medios y procedimientos</text></g>
<g id="p6a2"><rect x="160" y="540" width="65" height="5.4"/><text x="161.8" y="543.55">• Ensañamiento o alevosía</text></g>
<g id="p6b1"><rect x="160" y="584" width="65" height="5.4"/><text x="161.8" y="587.55">• Víctima &lt; 14 o discapacitada</text></g>
<g id="p6b2"><rect x="160" y="649" width="65" height="9.2"/><text x="161.8" y="652.55">• Víctima esposa, ex esposa o mujer ligada al<tspan x="161.8" dy="3.8">autor: violencia de género</tspan></text></g>
<g id="p6b3"><rect x="160" y="694.5" width="65" height="9.2"/><text x="161.8" y="698.05">• Víctima conviviente de especial<tspan x="161.8" dy="3.8">vulnerabilidad</tspan></text></g>
<g id="p6a1a"><rect x="90" y="478" width="65" height="9.2"/><text x="91.8" y="481.55">• Especial peligrosidad para salud del<tspan x="91.8" dy="3.8">lesionado</tspan></text></g>
<g id="p6a1b"><rect x="90" y="488.5" width="65" height="16.8"/><text x="91.8" y="492.05">• Jurisprudencia estima peligrosos armas de<tspan x="91.8" dy="3.8">fuego, machetes, martillos, instrumentos de</tspan><tspan x="91.8" dy="3.8">vidrio, mobiliario, automóviles, patadas en</tspan><tspan x="91.8" dy="3.8">cabeza, arrojar fuego</tspan></text></g>
<g id="p6a1c"><rect x="90" y="512" width="65" height="5.4"/><text x="91.8" y="515.55">• ¿Si resultado lesivo es delito leve?</text></g>
<g id="p6a2a"><rect x="90" y="538" width="65" height="9.2"/><text x="91.8" y="541.55">• Ensañamiento y alevosía sustituyeron<tspan x="91.8" dy="3.8">brutalidad y tortura</tspan></text></g>
<g id="p6b1a"><rect x="90" y="557" width="65" height="9.2"/><text x="91.8" y="560.55">• Fundamento de cualificación similar al de<tspan x="91.8" dy="3.8">agravante genérica de abuso de superioridad</tspan></text></g>
<g id="p6b1b"><rect x="90" y="567.5" width="65" height="9.2"/><text x="91.8" y="571.05">• Selección límite de edad carece de<tspan x="91.8" dy="3.8">justificación</tspan></text></g>
<g id="p6b1c"><rect x="90" y="577.5" width="65" height="16.8"/><text x="91.8" y="581.05">• Aplicación inmediata sin que sea concreta<tspan x="91.8" dy="3.8">cualidad de víctima haya dado lugar a mayor</tspan><tspan x="91.8" dy="3.8">gravedad del conducta, sin que expresamente</tspan><tspan x="91.8" dy="3.8">tenida abuso de superioridad</tspan></text></g>
<g id="p6b1d"><rect x="90" y="601.5" width="65" height="5.4"/><text x="91.8" y="605.05">• Previsión facultativa</text></g>
<g id="p6b1e"><rect x="90" y="615.5" width="65" height="5.4"/><text x="91.8" y="619.05">• ¿Error sobre edad?</text></g>
<g id="p6b2a"><rect x="90" y="624" width="65" height="13"/><text x="91.8" y="627.55">• Violencia ejercida por hombres frente<tspan x="91.8" dy="3.8">mujeres = relación afectiva (aun sin</tspan><tspan x="91.8" dy="3.8">convivencia)</tspan></text></g>
<g id="p6b2b"><rect x="90" y="644.5" width="65" height="5.4"/><text x="91.8" y="648.05">• Asimetría</text></g>
<g id="p6b2c"><rect x="90" y="661" width="65" height="5.4"/><text x="91.8" y="664.55">• Relación de afectividad análoga a conyugal</text></g>
<g id="p6b2d"><rect x="90" y="667.5" width="65" height="20.6"/><text x="91.8" y="671.05">• Lo decisivo para que equiparación se<tspan x="91.8" dy="3.8">produzca es que exista cierto grado de</tspan><tspan x="91.8" dy="3.8">compromiso o estabilidad, aun cuando no</tspan><tspan x="91.8" dy="3.8">haya fidelidad ni se compartan expectativas</tspan><tspan x="91.8" dy="3.8">de futuro</tspan></text></g>
<g id="p6b3a"><rect x="90" y="689" width="65" height="9.2"/><text x="91.8" y="692.55">• Otros supuestos de violencia doméstica al<tspan x="91.8" dy="3.8">margen de situaciones hombre-mujer</tspan></text></g>
<g id="p6b3b"><rect x="90" y="699.5" width="65" height="9.2"/><text x="91.8" y="703.05">• Persona especialmente vulnerable +<tspan x="91.8" dy="3.8">situación de convivencia</tspan></text></g>
<g id="p6a1a1"><rect x="21" y="480" width="64" height="5.4"/><text x="22.8" y="483.55">• Peligro especial deberá ser concreto</text></g>
<g id="p6a1c1"><rect x="21" y="506" width="64" height="5.4"/><text x="22.8" y="509.55">• Delito leve de lesiones</text></g>
<g id="p6a1c2"><rect x="21" y="512" width="64" height="5.4"/><text x="22.8" y="515.55">• Tentativa de delito agravado de lesiones</text></g>
<g id="p6a1c3"><rect x="21" y="519" width="64" height="9.2"/><text x="22.8" y="522.55">• Concurso ideal de delitos entre delito leve<tspan x="22.8" dy="3.8">y tentativa de delito agravado de lesiones</tspan></text></g>
<g id="p6a2a1"><rect x="21" y="529" width="64" height="13"/><text x="22.8" y="532.55">• Ensañamiento: aumento deliberado del<tspan x="22.8" dy="3.8">sufrimiento de víctima, innecesario para</tspan><tspan x="22.8" dy="3.8">ejecución</tspan></text></g>
<g id="p6a2a2"><rect x="21" y="543" width="64" height="13"/><text x="22.8" y="546.55">• Alevosía: medios, modos o formas que<tspan x="22.8" dy="3.8">tiendan directa o indirectamente a asegurar</tspan><tspan x="22.8" dy="3.8">resultado impidiendo defensa del ofendido</tspan></text></g>
<g id="p6b1d1"><rect x="21" y="595.5" width="64" height="16.8"/><text x="22.8" y="599.05">• Permite que no se aplique a supuestos casos<tspan x="22.8" dy="3.8">en que, aun concurriendo menor o</tspan><tspan x="22.8" dy="3.8">discapacitado, no se aprecie existencia de</tspan><tspan x="22.8" dy="3.8">mayor gravedad</tspan></text></g>
<g id="p6b1e1"><rect x="21" y="614" width="64" height="9.2"/><text x="22.8" y="617.55">• Dolo del autor deberá abarcar especiales<tspan x="22.8" dy="3.8">características de víctima</tspan></text></g>
<g id="p6b2b1"><rect x="21" y="638" width="64" height="5.4"/><text x="22.8" y="641.55">• SA: hombre</text></g>
<g id="p6b2b2"><rect x="21" y="644.5" width="64" height="5.4"/><text x="22.8" y="648.05">• SP: mujer</text></g>
<g id="p6b2b3"><rect x="21" y="651" width="64" height="9.2"/><text x="22.8" y="654.55">• Excluidas de agravación situaciones de<tspan x="22.8" dy="3.8">dominio entre 2 hombres o 2 mujeres</tspan></text></g>
<g id="p6b2d1"><rect x="21" y="673" width="64" height="9.2"/><text x="22.8" y="676.55">• Excluidas relaciones puramente<tspan x="22.8" dy="3.8">esporádicas y de simple amistad</tspan></text></g>
</g>
<g class="R" id="branch7">
<g id="n7" class="m"><rect x="298" y="356" width="68" height="13"/><text x="300" y="361.2">7. Lesiones agravadas por<tspan x="300" dy="4.2">resultado particularmente grave</tspan></text></g>
<g id="r7a"><rect x="229" y="273" width="65" height="5.4"/><text x="230.8" y="276.55">• Fundamento</text></g>
<g id="r7b"><rect x="229" y="290" width="65" height="5.4"/><text x="230.8" y="293.55">• Conducta básica</text></g>
<g id="r7c"><rect x="229" y="298.5" width="65" height="5.4"/><text x="230.8" y="302.05">• Pérdida</text></g>
<g id="r7d"><rect x="229" y="310.5" width="65" height="5.4"/><text x="230.8" y="314.05">• Inutilidad</text></g>
<g id="r7e"><rect x="229" y="329" width="65" height="5.4"/><text x="230.8" y="332.55">• Órgano o miembro no principal</text></g>
<g id="r7f"><rect x="229" y="360" width="65" height="5.4"/><text x="230.8" y="363.55">• Pérdida de sentido</text></g>
<g id="r7g"><rect x="229" y="379" width="65" height="5.4"/><text x="230.8" y="382.55">• Impotencia</text></g>
<g id="r7h"><rect x="229" y="391" width="65" height="5.4"/><text x="230.8" y="394.55">• Esterilidad</text></g>
<g id="r7i"><rect x="229" y="397.5" width="65" height="5.4"/><text x="230.8" y="401.05">• Deformidad</text></g>
<g id="r7j"><rect x="229" y="404.5" width="65" height="9.2"/><text x="230.8" y="408.05">• Grave enfermedad somática, que afecta al<tspan x="230.8" dy="3.8">cuerpo, o psíquica, que afecta a salud mental</tspan></text></g>
<g id="r7k"><rect x="229" y="416.5" width="65" height="5.4"/><text x="230.8" y="420.05">• Grave</text></g>
<g id="r7l"><rect x="229" y="449" width="65" height="5.4"/><text x="230.8" y="452.55">• Mutilación</text></g>
<g id="r7a1"><rect x="160" y="266.5" width="65" height="5.4"/><text x="161.8" y="270.05">• Especial gravedad del resultado</text></g>
<g id="r7a2"><rect x="160" y="273" width="65" height="5.4"/><text x="161.8" y="276.55">• Mayor desvalor del resultado</text></g>
<g id="r7a3"><rect x="160" y="279.5" width="65" height="9.2"/><text x="161.8" y="283.05">• Mayor lesividad por permanencia del<tspan x="161.8" dy="3.8">menoscabo biológico</tspan></text></g>
<g id="r7b1"><rect x="160" y="290" width="65" height="5.4"/><text x="161.8" y="293.55">• Conducta básica + plus agravatorio</text></g>
<g id="r7c1"><rect x="160" y="296.5" width="65" height="9.2"/><text x="161.8" y="300.05">• Destrucción anatómica de órgano o<tspan x="161.8" dy="3.8">miembro</tspan></text></g>
<g id="r7d1"><rect x="160" y="306.5" width="65" height="13"/><text x="161.8" y="310.05">• Pérdida sustancial de eficacia funcional<tspan x="161.8" dy="3.8">independiente y relevante para vida, salud o</tspan><tspan x="161.8" dy="3.8">desenvolvimiento del individuo</tspan></text></g>
<g id="r7e1"><rect x="160" y="321" width="65" height="9.2"/><text x="161.8" y="324.55">• Prestación accesoria, complementaria o<tspan x="161.8" dy="3.8">favorecedora</tspan></text></g>
<g id="r7e2"><rect x="160" y="331" width="65" height="13"/><text x="161.8" y="334.55">• Pérdida de piezas dentarias, ocasionadas<tspan x="161.8" dy="3.8">con dolo directo o eventual, es subsumible</tspan><tspan x="161.8" dy="3.8">150 CP</tspan></text></g>
<g id="r7f1"><rect x="160" y="345" width="65" height="20.6"/><text x="161.8" y="348.55">• Inhabilitación de órgano receptor sensorial<tspan x="161.8" dy="3.8">para recibir o transmitir a centros nerviosos</tspan><tspan x="161.8" dy="3.8">información externa necesaria para</tspan><tspan x="161.8" dy="3.8">interaccionar normalmente con entorno</tspan><tspan x="161.8" dy="3.8">exterior</tspan></text></g>
<g id="r7f2"><rect x="160" y="366.5" width="65" height="5.4"/><text x="161.8" y="370.05">• Total o irreparable</text></g>
<g id="r7g1"><rect x="160" y="373" width="65" height="16.8"/><text x="161.8" y="376.55">• Pérdida de función endocrina referida a<tspan x="161.8" dy="3.8">producción de hormonas determinantes del</tspan><tspan x="161.8" dy="3.8">apetito sexual, incapacidad para mantener</tspan><tspan x="161.8" dy="3.8">relaciones sexuales</tspan></text></g>
<g id="r7h1"><rect x="160" y="391" width="65" height="5.4"/><text x="161.8" y="394.55">• Incapacidad para procrear</text></g>
<g id="r7i1"><rect x="160" y="397.5" width="65" height="5.4"/><text x="161.8" y="401.05">• Integridad física</text></g>
<g id="r7k1"><rect x="160" y="414.5" width="65" height="9.2"/><text x="161.8" y="418.05">• Se determina en función de afectación al<tspan x="161.8" dy="3.8">bien jurídico</tspan></text></g>
<g id="r7l1"><rect x="160" y="431" width="65" height="5.4"/><text x="161.8" y="434.55">• Introducida por LO 11/2003</text></g>
<g id="r7l2"><rect x="160" y="449" width="65" height="5.4"/><text x="161.8" y="452.55">• ¿CP penal simbólico?</text></g>
<g id="r7l3"><rect x="160" y="463" width="65" height="5.4"/><text x="161.8" y="466.55">• ¿Ablaciones practicadas en extranjero?</text></g>
<g id="r7l1a"><rect x="90" y="424.5" width="65" height="5.4"/><text x="91.8" y="428.05">• Mutilación genital femenina</text></g>
<g id="r7l1b"><rect x="90" y="431" width="65" height="16.8"/><text x="91.8" y="434.55">• Si víctima es menor o incapaz, inhabilitación<tspan x="91.8" dy="3.8">especial para ejercicio de patria potestad,</tspan><tspan x="91.8" dy="3.8">tutela, guarda o acogimiento por</tspan><tspan x="91.8" dy="3.8">tiempo de 4 a 10 años</tspan></text></g>
<g id="r7l2a"><rect x="90" y="449" width="65" height="5.4"/><text x="91.8" y="452.55">• Órgano o miembro principal</text></g>
<g id="r7l3a"><rect x="90" y="455" width="65" height="20.6"/><text x="91.8" y="458.55">• Se ha considerado de aplicación española en<tspan x="91.8" dy="3.8">casos de menores residentes en</tspan><tspan x="91.8" dy="3.8">España que sufren esta práctica con</tspan><tspan x="91.8" dy="3.8">ocasión de viaje al país de origen de su</tspan><tspan x="91.8" dy="3.8">familia</tspan></text></g>
</g>
<g class="O" id="branch8">
<g id="n8" class="m"><rect x="298" y="241.8" width="68" height="7.6"/><text x="300" y="246.9">8. Lesiones imprudentes</text></g>
<g id="o8a"><rect x="229" y="227.5" width="65" height="5.4"/><text x="230.8" y="231.05">• Doble factor de corrección de pena</text></g>
<g id="o8b"><rect x="229" y="238" width="65" height="5.4"/><text x="230.8" y="241.55">• Penas accesorias</text></g>
<g id="o8c"><rect x="229" y="246" width="65" height="5.4"/><text x="230.8" y="249.55">• Imprudencia profesional</text></g>
<g id="o8d"><rect x="229" y="252.5" width="65" height="5.4"/><text x="230.8" y="256.05">• Imprudencia menos grave</text></g>
<g id="o8e"><rect x="229" y="259" width="65" height="5.4"/><text x="230.8" y="262.55">• Imprudencia leve</text></g>
<g id="o8a1"><rect x="160" y="226" width="65" height="9.2"/><text x="161.8" y="229.55">• En atención al riesgo causado, y resultado<tspan x="161.8" dy="3.8">producido</tspan></text></g>
<g id="o8b1"><rect x="160" y="236" width="65" height="9.2"/><text x="161.8" y="239.55">• Utilización de vehículo a motor o<tspan x="161.8" dy="3.8">ciclomotor, o armas de fuego</tspan></text></g>
<g id="o8c1"><rect x="160" y="246" width="65" height="5.4"/><text x="161.8" y="249.55">• Inhabilitación especial</text></g>
<g id="o8d1"><rect x="160" y="252.5" width="65" height="5.4"/><text x="161.8" y="256.05">• Multa</text></g>
<g id="o8e1"><rect x="160" y="259" width="65" height="5.4"/><text x="161.8" y="262.55">• Atípico</text></g>
</g>
<g class="Y" id="branch9">
<g id="n9" class="m"><rect x="298" y="156.5" width="68" height="12"/><text x="300" y="161.2">9. Maltrato en violencia de género<tspan x="300" dy="4.4">y doméstica</tspan></text></g>
<g id="y9a"><rect x="229" y="118" width="65" height="5.4"/><text x="230.8" y="121.55">• Conducta típica</text></g>
<g id="y9b"><rect x="229" y="161" width="65" height="5.4"/><text x="230.8" y="164.55">• Menoscabo psíquico</text></g>
<g id="y9c"><rect x="229" y="207" width="65" height="5.4"/><text x="230.8" y="210.55">• Tipificación asimétrica</text></g>
<g id="y9a1"><rect x="160" y="109" width="65" height="24.4"/><text x="161.8" y="112.55">• Causar, por cualquier medio o<tspan x="161.8" dy="3.8">procedimiento, menoscabo psíquico o lesión</tspan><tspan x="161.8" dy="3.8">incluida en 147.2 CP, o golpear o maltratar de</tspan><tspan x="161.8" dy="3.8">obra sin causar lesión a SA hombre y SP</tspan><tspan x="161.8" dy="3.8">mujer o situación de afectividad análoga al</tspan><tspan x="161.8" dy="3.8">matrimonio aun sin convivencia</tspan></text></g>
<g id="y9b1"><rect x="160" y="134.5" width="65" height="58.6"/><text x="161.8" y="138.05">• Toda acción u omisión, que no implique<tspan x="161.8" dy="3.8">agresión corporal, realizada dolosamente por</tspan><tspan x="161.8" dy="3.8">SA a sabiendas, para causar a otro de SP</tspan><tspan x="161.8" dy="3.8">enumerados en tipo perjuicio relevante de su</tspan><tspan x="161.8" dy="3.8">bienestar y equilibrio emocional, sea en</tspan><tspan x="161.8" dy="3.8">forma de sufrimiento moral, de conmoción</tspan><tspan x="161.8" dy="3.8">anímica, de pérdida de autoestima y de</tspan><tspan x="161.8" dy="3.8">confianza en sí mismo, de trastorno mental</tspan><tspan x="161.8" dy="3.8">de cualquier tipo o de menoscabo de su</tspan><tspan x="161.8" dy="3.8">dignidad personal, aunque no llegue a</tspan><tspan x="161.8" dy="3.8">producirse efectivamente detrimento</tspan><tspan x="161.8" dy="3.8">objetivable de salud psíquica de víctima, pues</tspan><tspan x="161.8" dy="3.8">consumación del delito no requiere resultado</tspan><tspan x="161.8" dy="3.8">lesivo material de este tipo, ya que</tspan><tspan x="161.8" dy="3.8">menoscabo ≠ lesión</tspan></text></g>
<g id="y9c1"><rect x="160" y="199.5" width="65" height="5.4"/><text x="161.8" y="203.05">• Fundamento: relación hombre-mujer</text></g>
<g id="y9c2"><rect x="160" y="211.5" width="65" height="9.2"/><text x="161.8" y="215.05">• ¿En ausencia de contexto de dominación<tspan x="161.8" dy="3.8">podría tipificarse como delito leve?</tspan></text></g>
<g id="y9c1a"><rect x="90" y="193" width="65" height="9.2"/><text x="91.8" y="196.55">• Situación asimétrica: posición de dominio<tspan x="91.8" dy="3.8">del varón</tspan></text></g>
<g id="y9c1b"><rect x="90" y="203" width="65" height="5.4"/><text x="91.8" y="206.55">• Especial vulnerabilidad de mujeres</text></g>
<g id="y9c2a"><rect x="90" y="210" width="65" height="13"/><text x="91.8" y="213.55">• Tesis literal: 153 CP parece presumir iuris et<tspan x="91.8" dy="3.8">de iure impregnación machista de todo vínculo</tspan><tspan x="91.8" dy="3.8">entre hombre-mujer</tspan></text></g>
</g>
<g class="G" id="branch10">
<g id="n10" class="m"><rect x="298" y="62.5" width="68" height="7.6"/><text x="300" y="67.6">10. Riña tumultuaria</text></g>
<g id="g10a"><rect x="229" y="35.5" width="65" height="5.4"/><text x="230.8" y="39.05">• Naturaleza jurídica</text></g>
<g id="g10b"><rect x="229" y="64" width="65" height="5.4"/><text x="230.8" y="67.55">• Elementos típicos</text></g>
<g id="g10c"><rect x="229" y="94" width="65" height="5.4"/><text x="230.8" y="97.55">• Particularidades</text></g>
<g id="g10a1"><rect x="160" y="30" width="65" height="5.4"/><text x="161.8" y="33.55">• No es delito de lesiones</text></g>
<g id="g10a2"><rect x="160" y="36.5" width="65" height="13"/><text x="161.8" y="40.05">• Delito de peligro concreto: exige creación<tspan x="161.8" dy="3.8">de situación de peligro para vida o integridad</tspan><tspan x="161.8" dy="3.8">de personas</tspan></text></g>
<g id="g10b1"><rect x="160" y="50.5" width="65" height="5.4"/><text x="161.8" y="54.05">• Enfrentamientos mutuos</text></g>
<g id="g10b2"><rect x="160" y="57" width="65" height="5.4"/><text x="161.8" y="60.55">• De carácter físico</text></g>
<g id="g10b3"><rect x="160" y="63.5" width="65" height="5.4"/><text x="161.8" y="67.05">• Entre dos o más bandos</text></g>
<g id="g10b4"><rect x="160" y="70" width="65" height="5.4"/><text x="161.8" y="73.55">• Haciendo uso de medios típicos</text></g>
<g id="g10b5"><rect x="160" y="76.5" width="65" height="9.2"/><text x="161.8" y="80.05">• Confundiéndose acciones: no es posible<tspan x="161.8" dy="3.8">aislar o singularizar conductas de cada uno</tspan></text></g>
<g id="g10c1"><rect x="160" y="87" width="65" height="9.2"/><text x="161.8" y="90.55">• Jurisprudencia mayoritaria entiende que no<tspan x="161.8" dy="3.8">cabe apreciar concurrencia de alevosía</tspan></text></g>
<g id="g10c2"><rect x="160" y="97" width="65" height="9.2"/><text x="161.8" y="100.55">• Un sector jurisprudencial afirma que no<tspan x="161.8" dy="3.8">cabe legítima defensa: autopuesta en peligro</tspan></text></g>
<g id="g10c1a"><rect x="90" y="87" width="65" height="9.2"/><text x="91.8" y="90.55">• Víctima nunca podrá ser sorprendida, pues<tspan x="91.8" dy="3.8">conoce que va a tener lugar</tspan></text></g>
</g>
<text x="424" y="729" text-anchor="middle" style="fill:#c8c8c8;font-size:2.9px">Powered with XMind</text>
</svg>
